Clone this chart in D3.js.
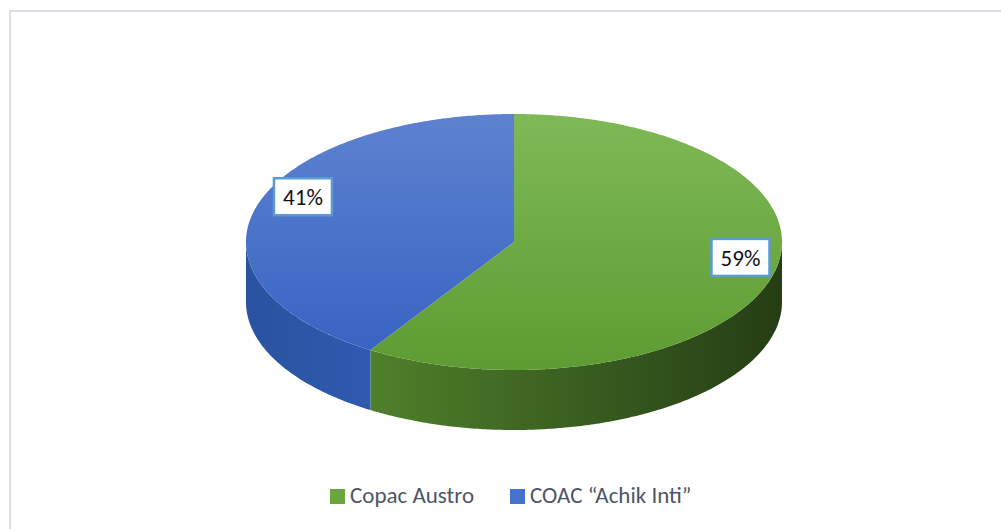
<!DOCTYPE html>
<html>
<head>
<meta charset="utf-8">
<script src="https://cdn.jsdelivr.net/npm/d3@7"></script>
<style>
  body { margin: 0; background: #fff; }
  svg { display: block; }
</style>
</head>
<body>
<div id="chart"></div>
<script>
const categories = ["Copac Austro", "COAC \u201cAchik Inti\u201d"];
const values = [59, 41];
const labels = ["59%", "41%"];

const W = 1001, H = 529;
const cx = 514, cy = 242, rx = 268, ry = 128, depth = 60;
const fontFam = "Carlito, Calibri, Lato, 'Open Sans', sans-serif";

const topColors = [["#7fb957", "#5d9c32"], ["#5d82d0", "#3561c1"]];
const sideColors = [["#4f802b", "#253d14"], ["#2a529f", "#2f5ab0"]];
const legendColors = ["#6aa63d", "#4672cc"];
const labelRadius = [0.88, 0.82];

const svg = d3.select("#chart").append("svg")
  .attr("width", W).attr("height", H);

// chart frame
svg.append("rect")
  .attr("x", 10).attr("y", 11).attr("width", W).attr("height", H)
  .attr("fill", "none").attr("stroke", "#dcdfe6").attr("stroke-width", 2);

const defs = svg.append("defs");
topColors.forEach((c, i) => {
  const g = defs.append("linearGradient").attr("id", "top" + i);
  g.append("stop").attr("offset", "0%").attr("stop-color", c[0]);
  g.append("stop").attr("offset", "100%").attr("stop-color", c[1]);
});
sideColors.forEach((c, i) => {
  const g = defs.append("linearGradient").attr("id", "side" + i);
  g.append("stop").attr("offset", "0%").attr("stop-color", c[0]);
  g.append("stop").attr("offset", "100%").attr("stop-color", c[1]);
});

const pie = d3.pie().sort(null).startAngle(0).endAngle(2 * Math.PI);
const arcs = pie(values);

const pt = (a, dy = 0, f = 1) => [cx + rx * f * Math.sin(a), cy - ry * f * Math.cos(a) + dy];

function arcPoints(a0, a1, dy) {
  const n = Math.max(2, Math.ceil((a1 - a0) / 0.01));
  return d3.range(n + 1).map(k => pt(a0 + (a1 - a0) * k / n, dy));
}

// side walls (front half only)
arcs.forEach((d, i) => {
  const a0 = Math.max(d.startAngle, Math.PI / 2);
  const a1 = Math.min(d.endAngle, 3 * Math.PI / 2);
  if (a1 <= a0) return;
  const topPts = arcPoints(a0, a1, 0);
  const botPts = arcPoints(a0, a1, depth).reverse();
  const xs = topPts.map(p => p[0]);
  defs.select("#side" + i).attr("gradientUnits", "userSpaceOnUse")
    .attr("x1", d3.min(xs)).attr("x2", d3.max(xs)).attr("y1", 0).attr("y2", 0);
  svg.append("path")
    .attr("d", d3.line()(topPts.concat(botPts)) + "Z")
    .attr("fill", `url(#side${i})`);
});

// top faces
arcs.forEach((d, i) => {
  const pts = [[cx, cy]].concat(arcPoints(d.startAngle, d.endAngle, 0));
  defs.select("#top" + i).attr("gradientUnits", "userSpaceOnUse")
    .attr("x1", 0).attr("y1", cy - ry).attr("x2", 0).attr("y2", cy + ry);
  svg.append("path")
    .attr("d", d3.line()(pts) + "Z")
    .attr("fill", `url(#top${i})`);
});

// data labels
arcs.forEach((d, i) => {
  const mid = (d.startAngle + d.endAngle) / 2;
  const [lx, ly0] = pt(mid, 0, labelRadius[i]);
  const ly = ly0 - 16;
  const g = svg.append("g").attr("transform", `translate(${lx},${ly})`);
  g.append("rect")
    .attr("x", -29).attr("y", -18.5).attr("width", 58).attr("height", 37)
    .attr("fill", "#fff").attr("stroke", "#5b9bd5").attr("stroke-width", 2.5);
  g.append("text")
    .attr("text-anchor", "middle").attr("dy", "0.36em")
    .attr("font-family", fontFam)
    .attr("font-size", 23).attr("fill", "#111")
    .text(labels[i]);
});

// legend
const legendX = [330, 510];
categories.forEach((c, i) => {
  const g = svg.append("g").attr("transform", `translate(${legendX[i]},489)`);
  g.append("rect").attr("width", 15).attr("height", 15).attr("fill", legendColors[i]);
  g.append("text")
    .attr("x", 20).attr("y", 14)
    .attr("font-family", fontFam)
    .attr("font-size", 23).attr("fill", "#4d5566")
    .text(c);
});
</script>
</body>
</html>
